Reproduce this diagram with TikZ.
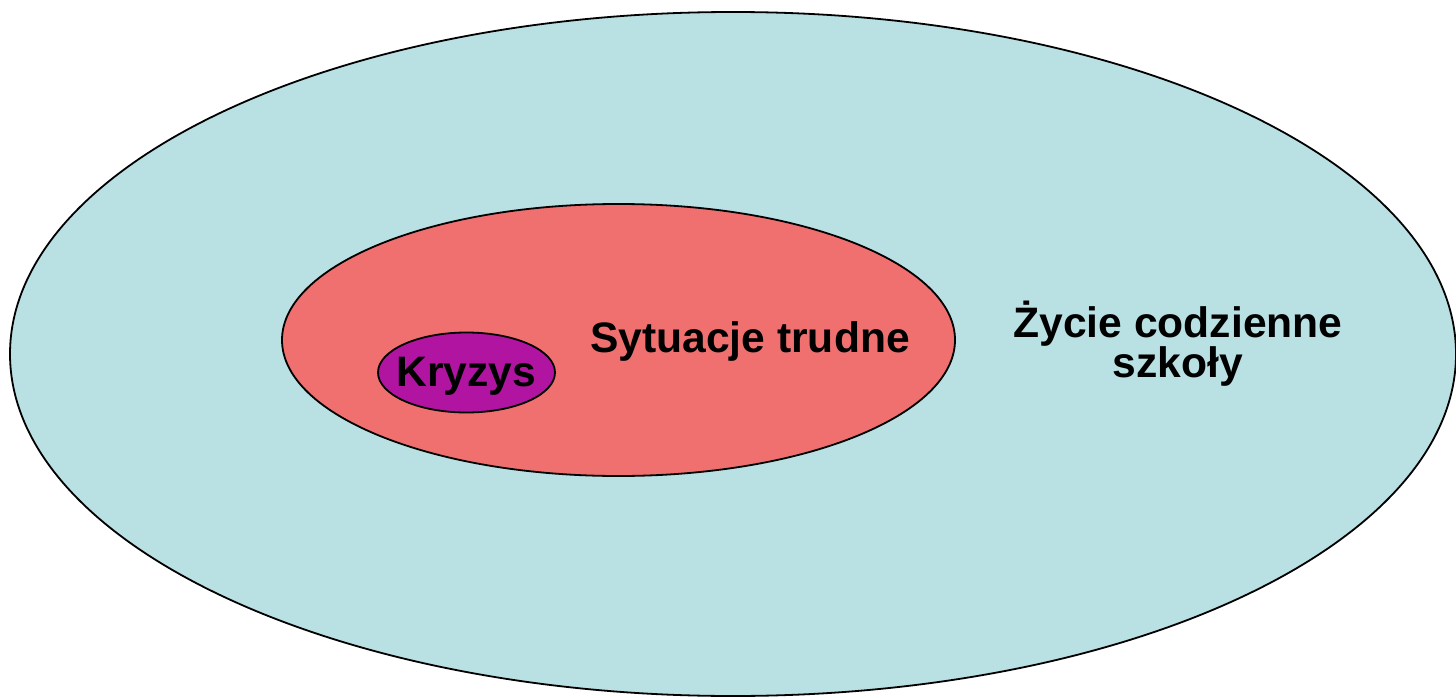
\documentclass[tikz,border=0pt]{standalone}
\usepackage{fontspec}
\setmainfont{Liberation Sans}
\definecolor{lifeblue}{RGB}{185,224,227}
\definecolor{hardred}{RGB}{240,112,112}
\definecolor{crisispurple}{RGB}{176,20,160}
\begin{document}
\begin{tikzpicture}[x=1pt,y=-1pt,
  ring/.style={draw=black,line width=1.8pt},
  lbl/.style={font=\fontsize{42.6}{40}\selectfont\bfseries,text=black,anchor=base,inner sep=0pt}]
\useasboundingbox (0,0) rectangle (1456,698);
\clip (0,0) rectangle (1456,698);
\filldraw[ring,fill=lifeblue] (733,354) ellipse [x radius=723, y radius=342];
\filldraw[ring,fill=hardred] (618.5,340) ellipse [x radius=336.5, y radius=136];
\filldraw[ring,fill=crisispurple] (466.5,372.5) ellipse [x radius=88.5, y radius=40];
\node[lbl] (kryzys) at (466.5,386) {Kryzys};
\node[lbl] (trudne) at (750,352) {Sytuacje trudne};
\node[lbl] (zycie) at (1178,337) {Życie codzienne};
\node[lbl] (szkoly) at (1178,377) {szkoły};
\end{tikzpicture}
\end{document}
